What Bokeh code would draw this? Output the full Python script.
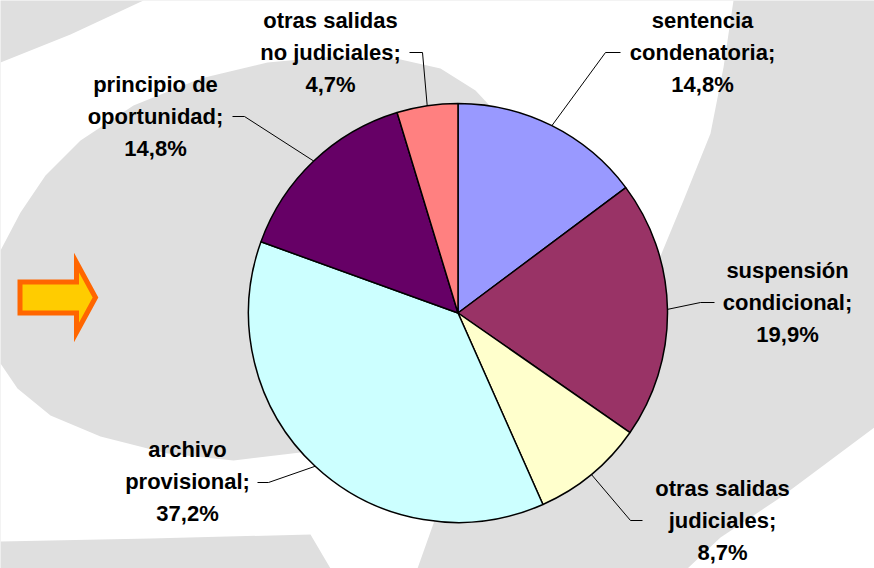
import math
from bokeh.plotting import figure
from bokeh.models import Range1d, ColumnDataSource
from bokeh.core.properties import value
from bokeh.embed import file_html
from bokeh.resources import INLINE

# ---- data ----
categories = ["sentencia condenatoria", "suspensión condicional", "otras salidas judiciales",
              "archivo provisional", "principio de oportunidad", "otras salidas no judiciales"]
values = [14.8, 19.9, 8.7, 37.2, 14.8, 4.7]
label_lines = [["sentencia", "condenatoria;"], ["suspensión", "condicional;"],
               ["otras salidas", "judiciales;"], ["archivo", "provisional;"],
               ["principio de", "oportunidad;"], ["otras salidas", "no judiciales;"]]
colors = ["#9999FF", "#993366", "#FFFFCC", "#CCFFFF", "#660066", "#FF8080"]

# ---- layout (pixel positions in page coords) ----
W, H = 874, 568
cx_pix, cy_pix, R = 457.5, 312.5, 209.5
label_pos = [(702, 20), (787, 270), (722, 488), (187, 449), (155, 84), (330, 20)]  # centre x, first baseline
leader = [(620, 605, 52), (714, 700, 302), (642, 630, 520), (257, 268, 482), (232, 244, 116), (409, 422, 52)]
LINE_H = 32
GREY = "#DFDFDF"

def Y(y):
    return H - y

p = figure(width=W, height=H, output_backend="svg", toolbar_location=None,
           x_range=Range1d(0, W), y_range=Range1d(0, H),
           x_axis_location=None, y_axis_location=None, min_border=0)
p.grid.visible = False
p.outline_line_color = None
p.background_fill_color = GREY
p.border_fill_color = GREY

# decorative white swooshes of the slide background
white_bands = [
    [(0, 62), (70, 34), (143, 0), (733, 0), (723, 67), (710, 133), (683, 200), (659, 258),
     (520, 250), (490, 106), (475, 90), (440, 68), (400, 59), (333, 56), (267, 62), (200, 78),
     (133, 105), (80, 140), (45, 175), (20, 212), (0, 250)],
    [(0, 363), (17, 388), (50, 415), (100, 436), (167, 453), (233, 460), (300, 452), (312, 463),
     (380, 440), (440, 500), (433, 523), (417, 568), (330, 568), (310, 534), (150, 538), (0, 541)],
    [(874, 427), (780, 497), (720, 537), (687, 568), (874, 568)],
]
p.patches(xs=[[q[0] for q in b] for b in white_bands], ys=[[Y(q[1]) for q in b] for b in white_bands],
          fill_color="white", line_color=None)

# decorative arrow
arrow = [(19.5, 281.5), (76, 281.5), (76, 262), (95, 297), (76, 332), (76, 312.5), (19.5, 312.5)]
p.patch([a[0] for a in arrow], [Y(a[1]) for a in arrow], fill_color="#FFCC00", line_color="#FF6600",
        line_width=5, line_join="miter")

# pie
total = sum(values)
starts, ends, mids = [], [], []
cum = 0.0
for v in values:
    a0 = math.pi / 2 - 2 * math.pi * cum / total
    cum += v
    a1 = math.pi / 2 - 2 * math.pi * cum / total
    starts.append(a1)
    ends.append(a0)
    mids.append((a0 + a1) / 2)
src = ColumnDataSource(dict(start=starts, end=ends, color=colors, cat=categories, val=values))
p.wedge(x=cx_pix, y=Y(cy_pix), radius=R, start_angle="start", end_angle="end", fill_color="color",
        line_color="black", line_width=1.5, source=src)

# leader lines
lxs, lys = [], []
for (sx, ex, ly), m in zip(leader, mids):
    px = cx_pix + R * math.cos(m)
    py = Y(cy_pix) + R * math.sin(m)
    lxs.append([sx, ex, px])
    lys.append([Y(ly), Y(ly), py])
p.multi_line(xs=lxs, ys=lys, line_color="black", line_width=1)

# labels
tx, ty, tt = [], [], []
for (lx, ly), lines, v in zip(label_pos, label_lines, values):
    allines = lines + [f"{v:.1f}".replace(".", ",") + "%"]
    for i, s in enumerate(allines):
        tx.append(lx)
        ty.append(Y(ly + i * LINE_H))
        tt.append(s)
p.text(x=tx, y=ty, text=tt, text_font=value("Liberation Sans"), text_font_style="bold",
       text_font_size="22px", text_align="center", text_baseline="alphabetic", text_color="black")

open("out.html", "w").write(file_html(p, INLINE))
